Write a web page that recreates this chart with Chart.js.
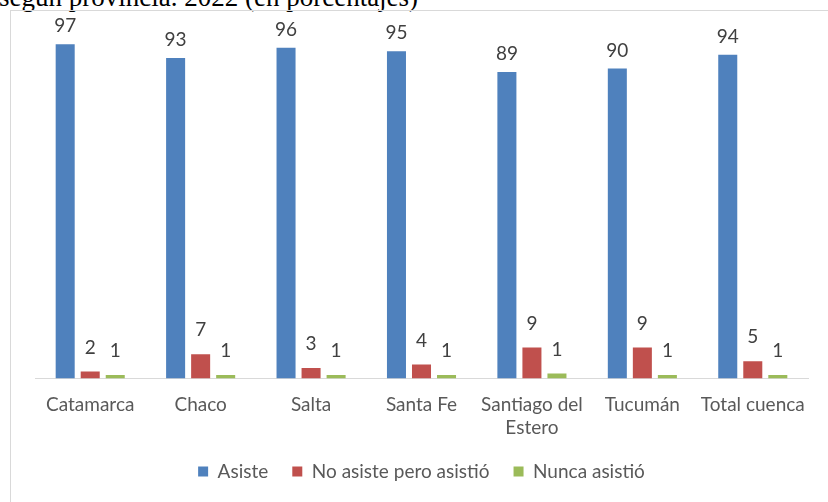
<!DOCTYPE html>
<html>
<head>
<meta charset="utf-8">
<script src="https://cdn.jsdelivr.net/npm/chart.js@4.4.0/dist/chart.umd.min.js"></script>
<style>
  body { margin: 0; background: #fff; width: 828px; height: 502px; overflow: hidden; position: relative; }
  #title { position: absolute; left: -1px; top: -16px; font: 27px "Liberation Serif", serif; line-height: 27px; color: #000; white-space: nowrap; }
  #frame { position: absolute; left: 10px; top: 10px; width: 900px; height: 600px; border: 1px solid #d9d9d9; box-sizing: border-box; }
  #wrap { position: absolute; left: 0; top: 0; width: 828px; height: 502px; }
</style>
</head>
<body>
<div id="title">según provincia. 2022 (en porcentajes)</div>
<div id="frame"></div>
<div id="wrap"><canvas id="chart" width="828" height="502"></canvas></div>
<script>
// categorias y series
var provincias = ["Catamarca", "Chaco", "Salta", "Santa Fe", ["Santiago del", "Estero"], "Tucumán", "Total cuenca"];
var asiste = [97, 93, 96, 95, 89, 90, 94];
var noAsistePeroAsistio = [2, 7, 3, 4, 9, 9, 5];
var nuncaAsistio = [1, 1, 1, 1, 1.4, 1, 1];

var labelFont = '"Lato", "Open Sans", sans-serif';

// etiquetas de valor arriba de cada barra
var valueLabels = {
  id: 'valueLabels',
  afterLayout: function(chart) {
    // que la segunda linea de "Santiago del Estero" no se recorte
    chart.scales.x.bottom += 30;
  },
  afterDatasetsDraw: function(chart) {
    var ctx = chart.ctx;
    ctx.save();
    ctx.font = '19px ' + labelFont;
    ctx.fillStyle = '#404040';
    ctx.textAlign = 'center';
    ctx.textBaseline = 'middle';
    chart.data.datasets.forEach(function(ds, i) {
      var meta = chart.getDatasetMeta(i);
      var off = i == 0 ? 18 : 24;
      meta.data.forEach(function(bar, j) {
        ctx.fillText(Math.round(ds.data[j]), bar.x, bar.y - off);
      });
    });
    ctx.restore();
  }
};

new Chart(document.getElementById('chart'), {
  type: 'bar',
  data: {
    labels: provincias,
    datasets: [
      { label: 'Asiste', data: asiste, backgroundColor: '#4F81BD' },
      { label: 'No asiste pero asistió', data: noAsistePeroAsistio, backgroundColor: '#C0504D' },
      { label: 'Nunca asistió', data: nuncaAsistio, backgroundColor: '#9BBB59' }
    ]
  },
  options: {
    responsive: false,
    animation: false,
    layout: { padding: { left: 35, right: 20, top: 34, bottom: 11 } },
    datasets: { bar: { categoryPercentage: 0.68, barPercentage: 0.76 } },
    plugins: {
      legend: {
        position: 'bottom',
        labels: {
          boxWidth: 10, boxHeight: 10, padding: 24,
          color: '#595959',
          font: { family: labelFont, size: 19 }
        }
      },
      tooltip: { enabled: false }
    },
    scales: {
      x: {
        grid: { display: false },
        border: { color: '#d9d9d9', width: 1 },
        ticks: { color: '#595959', font: { family: labelFont, size: 19 }, padding: 7, maxRotation: 0 },
        afterFit: function(scale) { scale.height -= 8; }
      },
      y: { display: false, min: 0, max: 100 }
    }
  },
  plugins: [valueLabels]
});
</script>
</body>
</html>
